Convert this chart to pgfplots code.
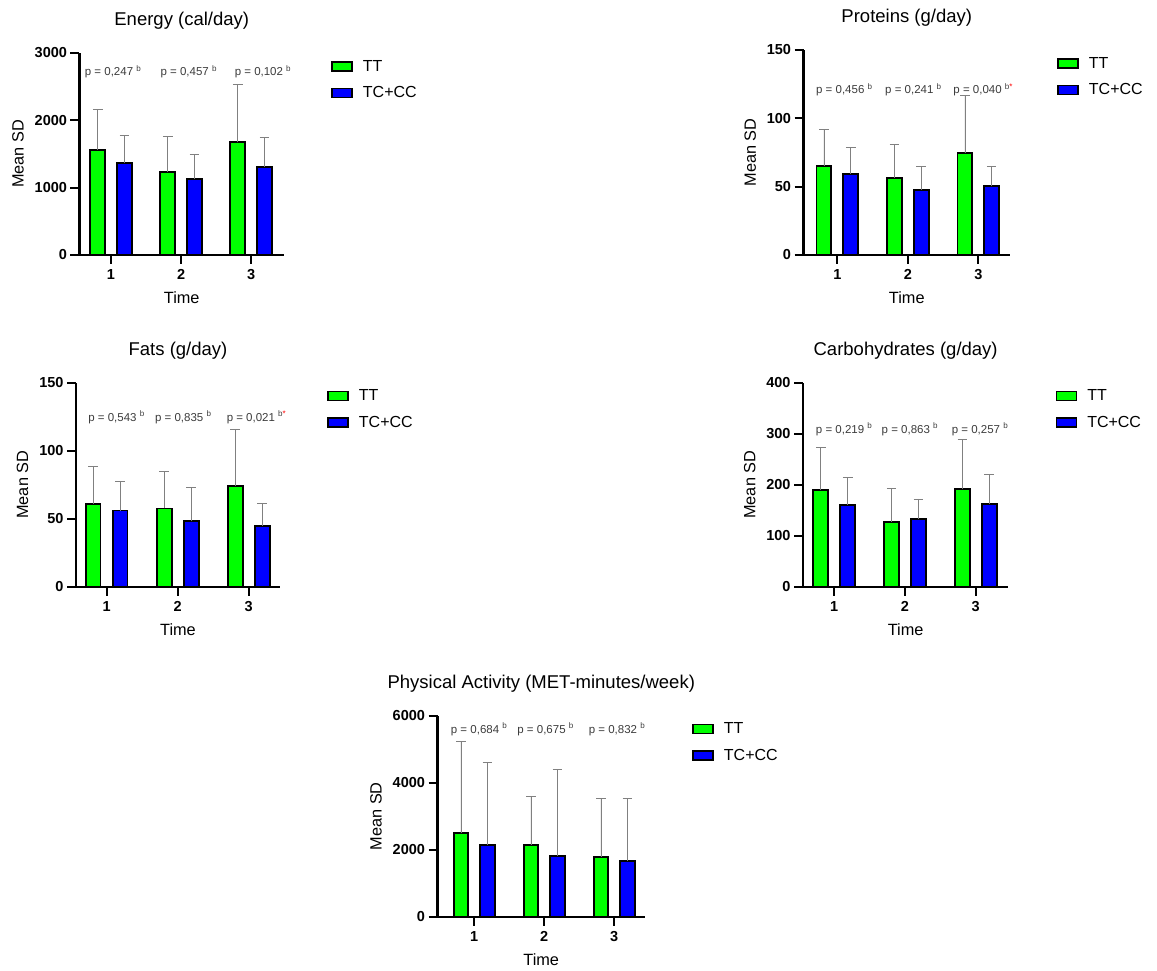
\documentclass[border=0pt]{standalone}
\usepackage{pgfplots}
\pgfplotsset{compat=1.18}
\usepackage{fontspec}
\setmainfont{Liberation Sans}
\definecolor{ttgreen}{RGB}{0,255,0}
\definecolor{tcblue}{RGB}{0,0,255}
\definecolor{ptext}{RGB}{60,60,60}
\definecolor{errgray}{RGB}{128,128,128}
\tikzset{pval/.style={text=ptext, font=\fontsize{11.5}{11.5}\selectfont}}
\pgfplotsset{
 panel/.style={
  scale only axis, anchor=south west,
  axis x line*=bottom, axis y line*=left,
  axis line style={line width=2.2pt, black},
  every tick/.style={black, line width=2pt},
  tick align=outside, major tick length=9pt,
  xtick={1,2,3},
  ymin=0,
  /pgf/number format/assume math mode=true,
  /pgf/number format/1000 sep={},
  scaled y ticks=false,
  ticklabel style={font=\fontsize{14.5}{14.5}\selectfont\bfseries},
  xticklabel style={yshift=-2pt},
  ylabel={Mean SD}, xlabel={Time},
  label style={font=\fontsize{16.3}{16.3}\selectfont},
  ylabel shift=4pt,
  title style={font=\fontsize{18.5}{18.5}\selectfont, at={(0.5,1)}, anchor=base, yshift=21pt},
  xlabel style={at={(0.5,0)}, anchor=base, yshift=-49pt},
  ybar, bar width=0.21,
  legend style={draw=none, fill=none, at={(1,1)}, anchor=north west, xshift=44pt, yshift=-3pt,
     font=\fontsize{16}{16}\selectfont, row sep=10pt, legend cell align=left},
  legend image code/.code={\draw[#1, line width=1.6pt, draw=black] (0pt,-4.5pt) rectangle (20pt,4.5pt); \path (28pt,0pt);},
  clip=false,
 },
 gbar/.style={fill=ttgreen, draw=black, line width=1.9pt, bar shift=-0.19,
   error bars/.cd, y dir=plus, y explicit, error bar style={errgray, line width=0.8pt},
   error mark options={errgray, rotate=90, mark size=4.8pt, line width=0.8pt}},
 bbar/.style={fill=tcblue, draw=black, line width=1.9pt, bar shift=0.19,
   error bars/.cd, y dir=plus, y explicit, error bar style={errgray, line width=0.8pt},
   error mark options={errgray, rotate=90, mark size=4.8pt, line width=0.8pt}},
}
\newcommand{\bs}{\textsuperscript{b}}
\newcommand{\bst}{\textsuperscript{b\textcolor{red}{*}}}
\begin{document}
\begin{tikzpicture}
\path[use as bounding box] (0,0) rectangle (1157pt,970pt);

% Energy
\begin{axis}[panel, at={(79.5pt,715pt)}, width=204.5pt, height=202pt,
  xmin=0.55, xmax=3.47, ymax=3000, ytick={0,1000,2000,3000},
  title={Energy (cal/day)}]
\addplot[gbar] table[x=x,y=y,y error=e] {
x y e
1 1564 592
2 1238 523
3 1672 864
};
\addplot[bbar] table[x=x,y=y,y error=e] {
x y e
1 1367 414
2 1125 365
3 1307 435
};
\legend{TT, TC+CC}
\node[pval] at (axis cs:1.03,2720) {p = 0,247 \bs};
\node[pval] at (axis cs:2.11,2720) {p = 0,457 \bs};
\node[pval] at (axis cs:3.17,2720) {p = 0,102 \bs};
\end{axis}

% Proteins
\begin{axis}[panel, at={(803.5pt,715pt)}, width=206.5pt, height=205pt,
  xmin=0.52, xmax=3.45, ymax=150, ytick={0,50,100,150},
  title={Proteins (g/day)}]
\addplot[gbar] table[x=x,y=y,y error=e] {
x y e
1 65.4 26.6
2 56.6 24.6
3 74.6 42.0
};
\addplot[bbar] table[x=x,y=y,y error=e] {
x y e
1 59.5 19.5
2 47.8 17.3
3 50.2 14.4
};
\legend{TT, TC+CC}
\node[pval] at (axis cs:1.10,120.7) {p = 0,456 \bs};
\node[pval] at (axis cs:2.08,120.7) {p = 0,241 \bs};
\node[pval] at (axis cs:3.07,120.7) {p = 0,040 \bst};
\end{axis}

% Fats
\begin{axis}[panel, at={(76pt,383.3pt)}, width=204pt, height=204pt,
  xmin=0.57, xmax=3.44, ymax=150, ytick={0,50,100,150},
  title={Fats (g/day)}]
\addplot[gbar] table[x=x,y=y,y error=e] {
x y e
1 61.1 27.5
2 57.5 27.2
3 73.9 42.0
};
\addplot[bbar] table[x=x,y=y,y error=e] {
x y e
1 56.0 21.3
2 48.1 24.6
3 44.9 16.0
};
\legend{TT, TC+CC}
\node[pval] at (axis cs:1.14,124.7) {p = 0,543 \bs};
\node[pval] at (axis cs:2.08,124.7) {p = 0,835 \bs};
\node[pval] at (axis cs:3.11,124.7) {p = 0,021 \bst};
\end{axis}

% Carbohydrates
\begin{axis}[panel, at={(803pt,383.3pt)}, width=205.3pt, height=204pt,
  xmin=0.558, xmax=3.46, ymax=400, ytick={0,100,200,300,400},
  title={Carbohydrates (g/day)}]
\addplot[gbar] table[x=x,y=y,y error=e] {
x y e
1 189.9 82.4
2 127.7 64.3
3 191.2 96.8
};
\addplot[bbar] table[x=x,y=y,y error=e] {
x y e
1 160.4 53.6
2 132.3 39.7
3 163.0 56.3
};
\legend{TT, TC+CC}
\node[pval] at (axis cs:1.14,309) {p = 0,219 \bs};
\node[pval] at (axis cs:2.07,309) {p = 0,863 \bs};
\node[pval] at (axis cs:3.06,309) {p = 0,257 \bs};
\end{axis}

% Physical activity
\begin{axis}[panel, at={(437.5pt,53.3pt)}, width=207.5pt, height=201pt,
  xmin=0.475, xmax=3.44, ymax=6000, ytick={0,2000,4000,6000},
  title={Physical Activity (MET-minutes/week)}]
\addplot[gbar] table[x=x,y=y,y error=e] {
x y e
1 2488 2736
2 2139 1463
3 1781 1761
};
\addplot[bbar] table[x=x,y=y,y error=e] {
x y e
1 2139 2458
2 1811 2587
3 1672 1870
};
\legend{TT, TC+CC}
\node[pval] at (axis cs:1.07,5592) {p = 0,684 \bs};
\node[pval] at (axis cs:2.02,5592) {p = 0,675 \bs};
\node[pval] at (axis cs:3.04,5592) {p = 0,832 \bs};
\end{axis}
\end{tikzpicture}
\end{document}
